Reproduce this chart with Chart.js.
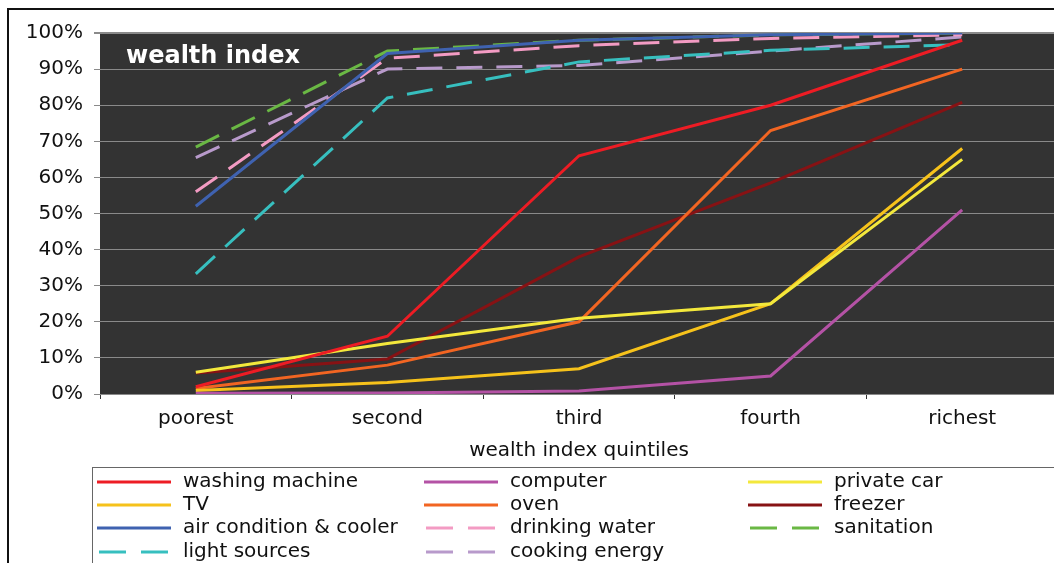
<!DOCTYPE html>
<html>
<head>
<meta charset="utf-8">
<script src="https://cdn.jsdelivr.net/npm/chart.js@4"></script>
<style>
    html, body { margin: 0; padding: 0; background: #fff; overflow: hidden; }
    #wrap { width: 1054px; height: 563px; overflow: hidden; position: relative; }
    #chart { position: absolute; left: 0; top: 0; }
</style>
</head>
<body>
<div id="wrap"><canvas id="chart" width="1060" height="563"></canvas></div>
<script>
    // Categories and series (percent of households)
    const quintiles = ['poorest', 'second', 'third', 'fourth', 'richest'];
    const washingMachine = [2, 16, 66, 80, 98];
    const computer = [0.2, 0.3, 0.8, 5, 51];
    const privateCar = [6, 14, 21, 25, 65];
    const tv = [1, 3.2, 7, 25, 68];
    const oven = [1.5, 8, 20, 73, 90];
    const freezer = [5.8, 9.7, 38, 58.5, 80.8];
    const airCondition = [52, 94.3, 98, 99.5, 100];
    const drinkingWater = [56, 93, 96.5, 98.5, 99.5];
    const sanitation = [68.4, 95, 98, 99.5, 100];
    const lightSources = [33.3, 82, 92, 95.2, 96.8];
    const cookingEnergy = [65.5, 90, 91, 95, 98.9];

    const yTicks = [0, 10, 20, 30, 40, 50, 60, 70, 80, 90, 100];
    const insideTitle = 'wealth index';
    const axisTitle = 'wealth index quintiles';

    const DASH = [26, 14];
    const FONT = 'DejaVu Sans, Verdana, sans-serif';

    function series(label, data, color, dashed) {
        return {
            label: label,
            data: data,
            borderColor: color,
            backgroundColor: color,
            borderWidth: 3,
            borderDash: dashed ? DASH : [],
            pointRadius: 0,
            tension: 0,
            fill: false
        };
    }

    const datasets = [
        series('washing machine', washingMachine, '#ed1c24', false),
        series('computer', computer, '#b452a5', false),
        series('private car', privateCar, '#f3e83c', false),
        series('TV', tv, '#f6c21b', false),
        series('oven', oven, '#f26522', false),
        series('freezer', freezer, '#871214', false),
        series('air condition & cooler', airCondition, '#3f62b0', false),
        series('drinking water', drinkingWater, '#f39bc3', true),
        series('sanitation', sanitation, '#6ab844', true),
        series('light sources', lightSources, '#37bfbf', true),
        series('cooking energy', cookingEnergy, '#b89acb', true)
    ];

    // Dark plot background, outer frame and the "wealth index" label
    const backdrop = {
        id: 'backdrop',
        beforeDraw(chart) {
            const { ctx, chartArea: a } = chart;
            ctx.save();
            ctx.fillStyle = '#333333';
            ctx.fillRect(a.left, a.top, a.right - a.left, a.bottom - a.top);
            ctx.strokeStyle = '#111';
            ctx.lineWidth = 2;
            ctx.beginPath();
            ctx.moveTo(8, 600);
            ctx.lineTo(8, 9);
            ctx.lineTo(1100, 9);
            ctx.stroke();
            ctx.restore();
        },
        beforeDatasetsDraw(chart) {
            const { ctx, chartArea: a } = chart;
            ctx.save();
            ctx.fillStyle = '#ffffff';
            ctx.font = 'bold 24px ' + FONT;
            ctx.textBaseline = 'middle';
            ctx.fillText(insideTitle, a.left + 26, a.top + 24);
            ctx.restore();
        }
    };

    // Boxed legend in three columns, filled row by row
    const boxLegend = {
        id: 'boxLegend',
        afterDraw(chart) {
            const { ctx } = chart;
            const boxX = 92.5, boxY = 467.5;
            const cols = [97, 424, 748];
            const rowY = [482, 505, 528, 552];
            ctx.save();
            ctx.strokeStyle = '#666';
            ctx.lineWidth = 1;
            ctx.strokeRect(boxX, boxY, 1100, 200);
            ctx.font = '20px ' + FONT;
            ctx.textBaseline = 'middle';
            chart.data.datasets.forEach((ds, i) => {
                const x = cols[i % 3];
                const y = rowY[Math.floor(i / 3)];
                ctx.strokeStyle = ds.borderColor;
                ctx.lineWidth = 3;
                ctx.setLineDash(ds.borderDash.length ? [27, 15] : []);
                ctx.beginPath();
                ctx.moveTo(x + (ds.borderDash.length ? 2 : 0), y);
                ctx.lineTo(x + 74, y);
                ctx.stroke();
                ctx.setLineDash([]);
                ctx.fillStyle = '#111';
                ctx.fillText(ds.label, x + 86, y);
            });
            ctx.restore();
        }
    };

    new Chart(document.getElementById('chart'), {
        type: 'line',
        data: { labels: quintiles, datasets: datasets },
        plugins: [backdrop, boxLegend],
        options: {
            responsive: false,
            devicePixelRatio: 1,
            animation: false,
            layout: { padding: { top: 33, right: 2, bottom: 98, left: 0 } },
            plugins: {
                legend: { display: false },
                tooltip: { enabled: false }
            },
            scales: {
                x: {
                    offset: true,
                    border: { display: false },
                    grid: {
                        offset: true,
                        drawOnChartArea: false,
                        drawTicks: true,
                        tickLength: 5,
                        tickColor: '#333'
                    },
                    ticks: {
                        padding: 8,
                        color: '#111',
                        font: { family: FONT, size: 20 }
                    },
                    title: {
                        display: true,
                        text: axisTitle,
                        color: '#111',
                        padding: { top: 0, bottom: 2 },
                        font: { family: FONT, size: 20 }
                    }
                },
                y: {
                    min: 0,
                    max: 100,
                    border: { display: false },
                    afterFit(scale) { scale.width = 100; },
                    afterBuildTicks(scale) {
                        scale.ticks = yTicks.map(v => ({ value: v }));
                    },
                    grid: {
                        color: '#8a8a8a',
                        lineWidth: ctx => (ctx.tick && ctx.tick.value === 100 ? 2 : 1),
                        tickLength: 6,
                        tickColor: '#8a8a8a'
                    },
                    ticks: {
                        padding: 11,
                        color: '#111',
                        font: { family: FONT, size: 20 },
                        callback: v => v + '%'
                    }
                }
            }
        }
    });
</script>
</body>
</html>
